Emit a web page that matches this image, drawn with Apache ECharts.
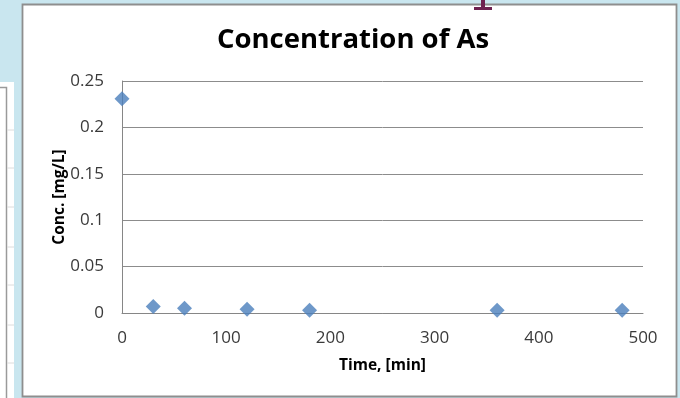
<!DOCTYPE html>
<html>
<head>
<meta charset="utf-8">
<script src="https://cdn.jsdelivr.net/npm/echarts@6/dist/echarts.min.js"></script>
<style>
html,body{margin:0;padding:0;background:#c9e6ef;}
#chart{width:680px;height:398px;}
</style>
</head>
<body>
<div id="chart"></div>
<script>
const titleText = "Concentration of As";
const xName = "Time, [min]";
const yName = "Conc. [mg/L]";
const timeMin = [0, 30, 60, 120, 180, 360, 480];
const concAs = [0.231, 0.007, 0.005, 0.004, 0.003, 0.003, 0.003];

const chart = echarts.init(document.getElementById('chart'), null, {renderer: 'canvas'});
const font = '"Open Sans", Lato, sans-serif';
const leftTicks = [130, 168, 207, 247, 285, 325, 363];
const graphics = [
  {type: 'rect', z: -10, shape: {x: 0, y: 82, width: 14, height: 320}, style: {fill: '#ffffff'}},
  {type: 'polyline', z: -9, shape: {points: [[0, 87.5], [6.5, 87.5], [6.5, 400]]}, style: {stroke: '#9a9a9a', lineWidth: 1.5, fill: null}},
  {type: 'rect', z: -10, shape: {x: 22.5, y: 4.5, width: 654, height: 392}, style: {fill: '#ffffff', stroke: '#8e8e8e', lineWidth: 1.8}},
  {type: 'rect', z: 20, shape: {x: 474, y: 7, width: 18, height: 3}, style: {fill: '#6e2150'}},
  {type: 'rect', z: 20, shape: {x: 481, y: 0, width: 4, height: 8}, style: {fill: '#6e2150'}}
];
leftTicks.forEach(function (y) {
  graphics.push({type: 'line', z: -9, shape: {x1: 7, y1: y, x2: 14, y2: y}, style: {stroke: '#dcdcdc', lineWidth: 1}});
});

chart.setOption({
  backgroundColor: '#c9e6ef',
  animation: false,
  graphic: graphics,
  title: {
    text: titleText,
    left: 348, top: 21, textAlign: 'center',
    textStyle: {fontFamily: font, fontWeight: 'bold', fontSize: 27.5, color: '#000000'}
  },
  grid: {left: 122, right: 37, top: 81, bottom: 85},
  xAxis: {
    type: 'value', min: 0, max: 500, interval: 100,
    name: xName, nameLocation: 'middle', nameGap: 45, nameMoveOverlap: false,
    nameTextStyle: {fontFamily: font, fontWeight: 'bold', fontSize: 15.5, color: '#000000'},
    axisLine: {show: true, onZero: false, lineStyle: {color: '#868686', width: 1}},
    axisTick: {show: false},
    splitLine: {show: false},
    axisLabel: {fontFamily: font, fontSize: 17, color: '#3a3a3a', margin: 17}
  },
  yAxis: {
    type: 'value', min: 0, max: 0.25, interval: 0.05,
    name: yName, nameLocation: 'middle', nameGap: 54, nameRotate: 90, nameMoveOverlap: false,
    nameTextStyle: {fontFamily: font, fontWeight: 'bold', fontSize: 15.5, color: '#000000'},
    axisLine: {show: true, lineStyle: {color: '#868686', width: 1}},
    axisTick: {show: false},
    splitLine: {show: true, lineStyle: {color: '#8c8c8c', width: 1}},
    axisLabel: {fontFamily: font, fontSize: 17, color: '#3a3a3a', margin: 18}
  },
  series: [{
    type: 'scatter',
    data: timeMin.map(function (t, i) { return [t, concAs[i]]; }),
    symbol: 'diamond', symbolSize: [15, 15],
    itemStyle: {color: '#4a7ebb'}
  }]
});
</script>
</body>
</html>
